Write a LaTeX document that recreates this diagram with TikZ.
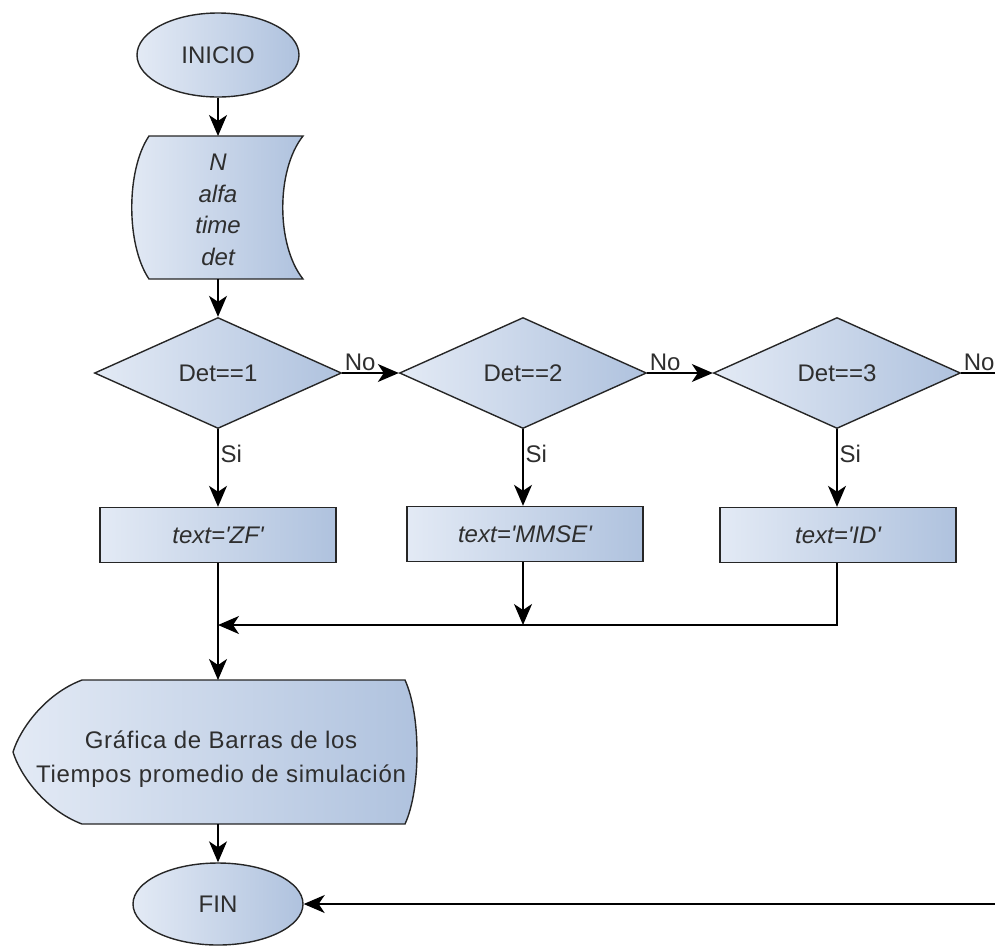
\documentclass[tikz,border=0pt]{standalone}
\usepackage{fontspec}
\setmainfont{Liberation Sans}
\usetikzlibrary{shapes.geometric,arrows.meta}
\definecolor{edge}{HTML}{262626}
\definecolor{fillL}{HTML}{E3EAF5}
\definecolor{fillR}{HTML}{AFC2DE}
\definecolor{ink}{HTML}{2E2E2E}
\newcommand{\sq}{\textquotesingle}
\begin{document}
\begin{tikzpicture}[x=1pt,y=-1pt,
  every node/.style={text=ink, font=\fontsize{24}{31}\selectfont},
  bluefill/.style={left color=fillL, right color=fillR, draw=edge, line width=1.4pt},
  term/.style={ellipse, bluefill, inner sep=0pt},
  decision/.style={diamond, bluefill, minimum width=247pt, minimum height=111pt, inner sep=0pt, aspect=2.2},
  proc/.style={rectangle, bluefill, minimum width=236pt, minimum height=55pt, inner sep=0pt, font=\fontsize{24}{31}\selectfont\itshape},
  arr/.style={draw=black, line width=1.4pt, -{Stealth[length=21pt,width=18pt,inset=6pt]}},
  lbl/.style={inner sep=2pt}
]
\useasboundingbox (0,0) rectangle (995,946);

% start
\node[term, minimum width=162pt, minimum height=84pt] (ini) at (218,55) {INICIO};

% input data
\path[bluefill] (149,136) -- (303,136)
  .. controls (276,170) and (276,245) .. (303,279) -- (149,279)
  .. controls (126,245) and (126,170) .. (149,136) -- cycle;
\node[align=center, font=\fontsize{24}{31.7}\selectfont\itshape] (dat) at (218,210) {N\\alfa\\time\\det};
\coordinate (datT) at (218,136);
\coordinate (datB) at (218,279);

% decisions
\node[decision] (d1) at (218,373) {Det==1};
\node[decision] (d2) at (523,373) {Det==2};
\node[decision] (d3) at (837,373) {Det==3};

% assignments
\node[proc] (b1) at (218,535) {text=\sq ZF\sq};
\node[proc] (b2) at (525,534) {text=\sq MMSE\sq};
\node[proc] (b3) at (838,535) {text=\sq ID\sq};

% display output
\path[bluefill] (82,680) -- (405,680)
  .. controls (421,715) and (421,789) .. (405,824) -- (82,824)
  .. controls (45,810) and (20,775) .. (13,752)
  .. controls (20,729) and (45,694) .. (82,680) -- cycle;
\node[align=center, font=\fontsize{24}{34}\selectfont\addfontfeatures{LetterSpace=3}] (disp) at (221,759) {Gráfica de Barras de los\\Tiempos promedio de simulación};
\coordinate (dispT) at (218,680);
\coordinate (dispB) at (218,824);

% end
\node[term, minimum width=170pt, minimum height=82pt] (fin) at (218,904) {FIN};

% connectors
\coordinate (m1) at (218,625);
\coordinate (m2) at (523,625);
\coordinate (rt) at (1012,373);

\draw[arr] (ini) -- (datT);
\draw[arr] (datB) -- (d1);
\draw[arr] (d1.east) -- node[lbl, above right, pos=0] {No} (d2.west);
\draw[arr] (d2.east) -- node[lbl, above right, pos=0] {No} (d3.west);
\draw[arr] (d3.east) -- node[lbl, above right, pos=0] {No} (rt) |- (fin.east);
\draw[arr] (d1) -- node[lbl, right, pos=0.32] {Si} (b1);
\draw[arr] (d2) -- node[lbl, right, pos=0.32] {Si} (d2 |- b2.north);
\draw[arr] (d3) -- node[lbl, right, pos=0.32] {Si} (d3 |- b3.north);
\draw[arr] (b1.south) -- (dispT);
\draw[arr] (b2.south -| m2) -- (m2);
\draw[arr] (b3.south -| d3) |- (m1);
\draw[arr] (dispB) -- (fin);
\end{tikzpicture}
\end{document}
